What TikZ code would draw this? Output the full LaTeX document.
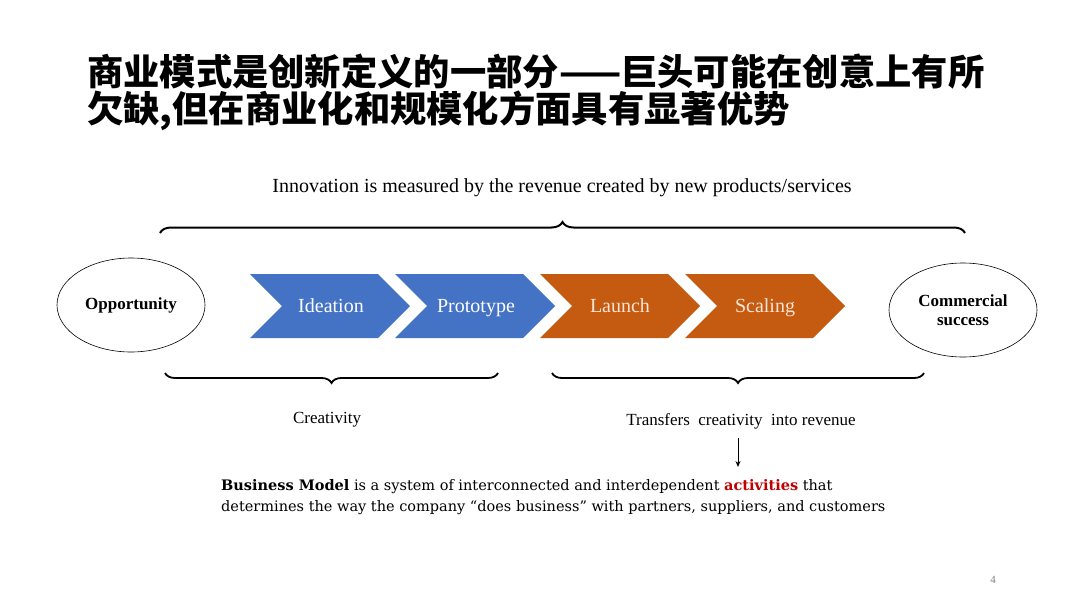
\documentclass[tikz,border=0pt]{standalone}
\usepackage{fontspec}
\setmainfont{Liberation Serif}
\newfontfamily\cjk{Noto Sans CJK SC}
\newfontfamily\bmfont{DejaVu Serif}
\usetikzlibrary{decorations.pathreplacing,arrows.meta,shapes.geometric}
\definecolor{chblue}{HTML}{4472C4}
\definecolor{chorange}{HTML}{C55A11}
\definecolor{peach}{HTML}{FBE5D6}
\definecolor{actred}{HTML}{C00000}
\tikzset{
  bigbrace/.style={decorate,decoration={brace,amplitude=11pt},line width=2pt},
  smallbrace/.style={decorate,decoration={brace,amplitude=10pt},line width=1.8pt},
  oval/.style={draw,ellipse,line width=0.6pt,minimum width=148pt,minimum height=94pt,inner sep=0pt,font=\fontsize{17}{19}\selectfont\bfseries,align=center},
  chevtext/.style={font=\fontsize{20}{22}\selectfont,text height=13pt,text depth=4pt,inner sep=0pt},
  labeltext/.style={font=\fontsize{17}{19}\selectfont},
  titletext/.style={anchor=west,inner sep=0pt,font=\cjk\bfseries\fontsize{36.3}{40}\selectfont}
}
\newcommand\chevron[2]{\fill[#2] (#1,274) -- ++(128,0) -- ++(32,32) -- ++(-32,32) -- ++(-128,0) -- ++(32,-32) -- cycle;}
\begin{document}
\begin{tikzpicture}[x=1pt,y=-1pt]
\useasboundingbox (0,0) rectangle (1080,608);
\fill[white] (0,0) rectangle (1080,608);
% title
\node[titletext] (t1) at (87,72) {商业模式是创新定义的一部分——巨头可能在创意上有所};
\node[titletext] (t2) at (87,111) {欠缺,但在商业化和规模化方面具有显著优势};
% top label and brace
\node[font=\fontsize{20}{22}\selectfont] (innov) at (562,188) {Innovation is measured by the revenue created by new products/services};
\coordinate (tbL) at (160,233);
\coordinate (tbR) at (965,233);
\draw[bigbrace] (tbL) -- (tbR);
% ellipses
\node[oval] (opp) at (131,305) {Opportunity};
\node[oval] (com) at (963,310) {Commercial\\success};
% chevrons
\chevron{250}{chblue}
\chevron{395}{chblue}
\chevron{540}{chorange}
\chevron{685}{chorange}
\node[chevtext,text=white] (idea) at (331,308) {Ideation};
\node[chevtext,text=white] (proto) at (476,308) {Prototype};
\node[chevtext,text=peach] (launch) at (620,308) {Launch};
\node[chevtext,text=peach] (scal) at (765,308) {Scaling};
% bottom braces
\coordinate (lbL) at (165,373);
\coordinate (lbR) at (498,373);
\draw[smallbrace] (lbR) -- (lbL);
\coordinate (rbL) at (552,373);
\coordinate (rbR) at (924,373);
\draw[smallbrace] (rbR) -- (rbL);
\node[labeltext] (crea) at (327,420) {Creativity};
\node[labeltext] (trans) at (741,421) {Transfers\ \ creativity\ \ into revenue};
\coordinate (arS) at (738,438);
\coordinate (arE) at (738,467);
\draw[line width=0.9pt,-{Stealth[length=6pt,width=5pt]}] (arS) -- (arE);
% business model text
\node[anchor=north west,inner sep=0pt,align=left,font=\bmfont\fontsize{14.5}{21}\selectfont] (bm) at (221,479)
{\textbf{Business Model} is a system of interconnected and interdependent \textcolor{actred}{\textbf{activities}} that\\
determines the way the company “does business” with partners, suppliers, and customers};
% page number
\node[text=gray,font=\fontsize{11}{12}\selectfont] (pg) at (993,580) {4};
\end{tikzpicture}
\end{document}
